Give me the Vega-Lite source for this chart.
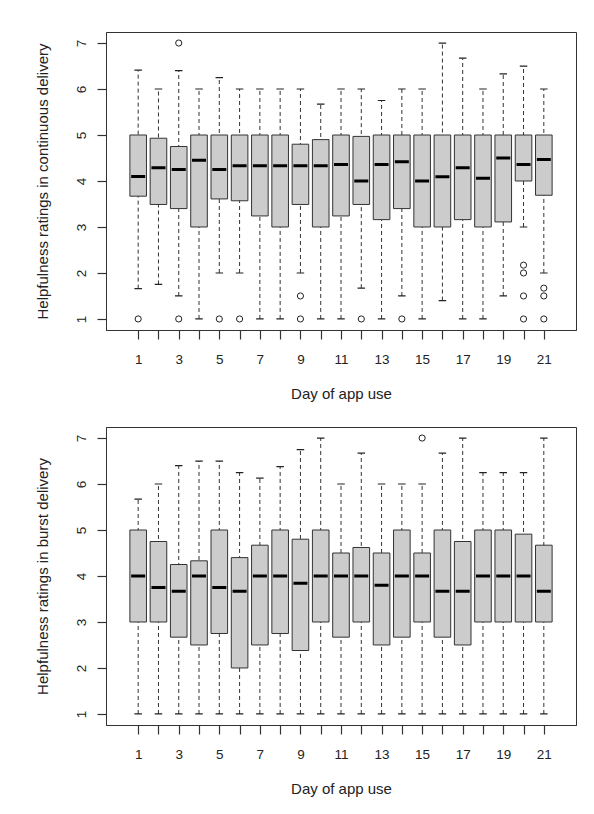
{
  "$schema": "https://vega.github.io/schema/vega-lite/v6.json",
  "padding": {"left": 35, "top": 31, "right": 5, "bottom": 5},
  "background": "white",
  "spacing": 97,
  "bounds": "flush",
  "datasets": {
    "cont": [
      {"day": 1, "lo": 1.66, "q1": 3.67, "med": 4.1, "q3": 5, "hi": 6.41},
      {"day": 2, "lo": 1.75, "q1": 3.49, "med": 4.29, "q3": 4.93, "hi": 6},
      {"day": 3, "lo": 1.5, "q1": 3.4, "med": 4.25, "q3": 4.75, "hi": 6.4},
      {"day": 4, "lo": 1, "q1": 3, "med": 4.45, "q3": 5, "hi": 6},
      {"day": 5, "lo": 2, "q1": 3.61, "med": 4.25, "q3": 5, "hi": 6.25},
      {"day": 6, "lo": 2, "q1": 3.57, "med": 4.33, "q3": 5, "hi": 6},
      {"day": 7, "lo": 1, "q1": 3.24, "med": 4.33, "q3": 5, "hi": 6},
      {"day": 8, "lo": 1, "q1": 3, "med": 4.33, "q3": 5, "hi": 6},
      {"day": 9, "lo": 2, "q1": 3.49, "med": 4.33, "q3": 4.8, "hi": 6},
      {"day": 10, "lo": 1, "q1": 3, "med": 4.33, "q3": 4.9, "hi": 5.67},
      {"day": 11, "lo": 1, "q1": 3.24, "med": 4.36, "q3": 5, "hi": 6},
      {"day": 12, "lo": 1.67, "q1": 3.49, "med": 4, "q3": 4.97, "hi": 6},
      {"day": 13, "lo": 1, "q1": 3.16, "med": 4.36, "q3": 5, "hi": 5.75},
      {"day": 14, "lo": 1.5, "q1": 3.4, "med": 4.42, "q3": 5, "hi": 6},
      {"day": 15, "lo": 1, "q1": 3, "med": 4, "q3": 5, "hi": 6},
      {"day": 16, "lo": 1.4, "q1": 3, "med": 4.09, "q3": 5, "hi": 7},
      {"day": 17, "lo": 1, "q1": 3.16, "med": 4.29, "q3": 5, "hi": 6.67},
      {"day": 18, "lo": 1, "q1": 3, "med": 4.06, "q3": 5, "hi": 6},
      {"day": 19, "lo": 1.5, "q1": 3.11, "med": 4.5, "q3": 5, "hi": 6.33},
      {"day": 20, "lo": 3, "q1": 4, "med": 4.36, "q3": 5, "hi": 6.5},
      {"day": 21, "lo": 2, "q1": 3.69, "med": 4.47, "q3": 5, "hi": 6}
    ],
    "contOut": [
      {"day": 1, "v": 1}, {"day": 3, "v": 7}, {"day": 3, "v": 1}, {"day": 5, "v": 1},
      {"day": 6, "v": 1}, {"day": 9, "v": 1.5}, {"day": 9, "v": 1}, {"day": 12, "v": 1},
      {"day": 14, "v": 1}, {"day": 20, "v": 2.17}, {"day": 20, "v": 2}, {"day": 20, "v": 1.5},
      {"day": 20, "v": 1}, {"day": 21, "v": 1.67}, {"day": 21, "v": 1.5}, {"day": 21, "v": 1}
    ],
    "burst": [
      {"day": 1, "lo": 1, "q1": 3, "med": 4, "q3": 5, "hi": 5.67},
      {"day": 2, "lo": 1, "q1": 3, "med": 3.75, "q3": 4.75, "hi": 6},
      {"day": 3, "lo": 1, "q1": 2.67, "med": 3.67, "q3": 4.25, "hi": 6.4},
      {"day": 4, "lo": 1, "q1": 2.5, "med": 4, "q3": 4.33, "hi": 6.5},
      {"day": 5, "lo": 1, "q1": 2.75, "med": 3.75, "q3": 5, "hi": 6.5},
      {"day": 6, "lo": 1, "q1": 2, "med": 3.67, "q3": 4.4, "hi": 6.25},
      {"day": 7, "lo": 1, "q1": 2.5, "med": 4, "q3": 4.67, "hi": 6.13},
      {"day": 8, "lo": 1, "q1": 2.75, "med": 4, "q3": 5, "hi": 6.38},
      {"day": 9, "lo": 1, "q1": 2.38, "med": 3.84, "q3": 4.8, "hi": 6.75},
      {"day": 10, "lo": 1, "q1": 3, "med": 4, "q3": 5, "hi": 7},
      {"day": 11, "lo": 1, "q1": 2.67, "med": 4, "q3": 4.5, "hi": 6},
      {"day": 12, "lo": 1, "q1": 3, "med": 4, "q3": 4.62, "hi": 6.67},
      {"day": 13, "lo": 1, "q1": 2.5, "med": 3.8, "q3": 4.5, "hi": 6},
      {"day": 14, "lo": 1, "q1": 2.67, "med": 4, "q3": 5, "hi": 6},
      {"day": 15, "lo": 1, "q1": 3, "med": 4, "q3": 4.5, "hi": 6},
      {"day": 16, "lo": 1, "q1": 2.67, "med": 3.67, "q3": 5, "hi": 6.67},
      {"day": 17, "lo": 1, "q1": 2.5, "med": 3.67, "q3": 4.75, "hi": 7},
      {"day": 18, "lo": 1, "q1": 3, "med": 4, "q3": 5, "hi": 6.25},
      {"day": 19, "lo": 1, "q1": 3, "med": 4, "q3": 5, "hi": 6.25},
      {"day": 20, "lo": 1, "q1": 3, "med": 4, "q3": 4.91, "hi": 6.25},
      {"day": 21, "lo": 1, "q1": 3, "med": 3.67, "q3": 4.67, "hi": 7}
    ],
    "burstOut": [
      {"day": 15, "v": 7}
    ]
  },
  "vconcat": [
    {
      "width": 470,
      "height": 298,
      "encoding": {
        "x": {"field": "day", "type": "quantitative", "title": "Day of app use",
          "scale": {"domain": [-0.34, 22.34], "nice": false, "zero": false},
          "axis": {"values": [1,2,3,4,5,6,7,8,9,10,11,12,13,14,15,16,17,18,19,20,21],
            "labelExpr": "datum.value % 2 == 1 ? datum.label : ''"}}
      },
      "layer": [
        {"data": {"name": "cont"},
         "mark": {"type": "rule", "strokeDash": [4, 3], "color": "#333", "strokeWidth": 1},
         "encoding": {
           "y": {"field": "lo", "type": "quantitative", "title": "Helpfulness ratings in continuous delivery",
             "scale": {"domain": [0.76, 7.24], "nice": false, "zero": false},
             "axis": {"values": [1, 2, 3, 4, 5, 6, 7]}},
           "y2": {"field": "hi"}}},
        {"data": {"name": "cont"},
         "mark": {"type": "bar", "size": 7.5, "fill": null, "stroke": "#222", "strokeWidth": 1.2},
         "encoding": {"y": {"field": "lo", "type": "quantitative", "title": "Helpfulness ratings in continuous delivery", "axis": {"values": [1, 2, 3, 4, 5, 6, 7]}}, "y2": {"field": "lo"}}},
        {"data": {"name": "cont"},
         "mark": {"type": "bar", "size": 7.5, "fill": null, "stroke": "#222", "strokeWidth": 1.2},
         "encoding": {"y": {"field": "hi", "type": "quantitative", "title": "Helpfulness ratings in continuous delivery", "axis": {"values": [1, 2, 3, 4, 5, 6, 7]}}, "y2": {"field": "hi"}}},
        {"data": {"name": "cont"},
         "mark": {"type": "bar", "size": 16.6, "fill": "#cccccc", "stroke": "#333", "strokeWidth": 1},
         "encoding": {"y": {"field": "q1", "type": "quantitative", "title": "Helpfulness ratings in continuous delivery", "axis": {"values": [1, 2, 3, 4, 5, 6, 7]}}, "y2": {"field": "q3"}}},
        {"data": {"name": "cont"},
         "mark": {"type": "bar", "size": 14, "fill": null, "stroke": "#000", "strokeWidth": 3},
         "encoding": {"y": {"field": "med", "type": "quantitative", "title": "Helpfulness ratings in continuous delivery", "axis": {"values": [1, 2, 3, 4, 5, 6, 7]}}, "y2": {"field": "med"}}},
        {"data": {"name": "contOut"},
         "mark": {"type": "point", "shape": "circle", "filled": false, "size": 38, "stroke": "#222", "strokeWidth": 1, "opacity": 1},
         "encoding": {"y": {"field": "v", "type": "quantitative", "title": "Helpfulness ratings in continuous delivery", "axis": {"values": [1, 2, 3, 4, 5, 6, 7]}}}}
      ]
    },
    {
      "width": 470,
      "height": 298,
      "encoding": {
        "x": {"field": "day", "type": "quantitative", "title": "Day of app use",
          "scale": {"domain": [-0.34, 22.34], "nice": false, "zero": false},
          "axis": {"values": [1,2,3,4,5,6,7,8,9,10,11,12,13,14,15,16,17,18,19,20,21],
            "labelExpr": "datum.value % 2 == 1 ? datum.label : ''"}}
      },
      "layer": [
        {"data": {"name": "burst"},
         "mark": {"type": "rule", "strokeDash": [4, 3], "color": "#333", "strokeWidth": 1},
         "encoding": {
           "y": {"field": "lo", "type": "quantitative", "title": "Helpfulness ratings in burst delivery",
             "scale": {"domain": [0.76, 7.24], "nice": false, "zero": false},
             "axis": {"values": [1, 2, 3, 4, 5, 6, 7]}},
           "y2": {"field": "hi"}}},
        {"data": {"name": "burst"},
         "mark": {"type": "bar", "size": 7.5, "fill": null, "stroke": "#222", "strokeWidth": 1.2},
         "encoding": {"y": {"field": "lo", "type": "quantitative", "title": "Helpfulness ratings in burst delivery", "axis": {"values": [1, 2, 3, 4, 5, 6, 7]}}, "y2": {"field": "lo"}}},
        {"data": {"name": "burst"},
         "mark": {"type": "bar", "size": 7.5, "fill": null, "stroke": "#222", "strokeWidth": 1.2},
         "encoding": {"y": {"field": "hi", "type": "quantitative", "title": "Helpfulness ratings in burst delivery", "axis": {"values": [1, 2, 3, 4, 5, 6, 7]}}, "y2": {"field": "hi"}}},
        {"data": {"name": "burst"},
         "mark": {"type": "bar", "size": 16.6, "fill": "#cccccc", "stroke": "#333", "strokeWidth": 1},
         "encoding": {"y": {"field": "q1", "type": "quantitative", "title": "Helpfulness ratings in burst delivery", "axis": {"values": [1, 2, 3, 4, 5, 6, 7]}}, "y2": {"field": "q3"}}},
        {"data": {"name": "burst"},
         "mark": {"type": "bar", "size": 14, "fill": null, "stroke": "#000", "strokeWidth": 3},
         "encoding": {"y": {"field": "med", "type": "quantitative", "title": "Helpfulness ratings in burst delivery", "axis": {"values": [1, 2, 3, 4, 5, 6, 7]}}, "y2": {"field": "med"}}},
        {"data": {"name": "burstOut"},
         "mark": {"type": "point", "shape": "circle", "filled": false, "size": 38, "stroke": "#222", "strokeWidth": 1, "opacity": 1},
         "encoding": {"y": {"field": "v", "type": "quantitative", "title": "Helpfulness ratings in burst delivery", "axis": {"values": [1, 2, 3, 4, 5, 6, 7]}}}}
      ]
    }
  ],
  "config": {
    "view": {"stroke": "#333", "strokeWidth": 1},
    "axis": {
      "gridOpacity": 0, "domainColor": "#333", "domainWidth": 1,
      "tickSize": 9, "tickColor": "#333", "tickWidth": 1.2,
      "labelFont": "Liberation Sans", "labelFontSize": 13.5, "labelColor": "#222",
      "titleFont": "Liberation Sans", "titleFontSize": 15, "titleFontWeight": "normal", "titleColor": "#222"
    },
    "axisX": {"labelPadding": 13.5, "titlePadding": 20},
    "axisY": {"labelAngle": -90, "labelAlign": "center", "labelBaseline": "alphabetic", "labelPadding": 11.5, "titlePadding": 24}
  }
}
